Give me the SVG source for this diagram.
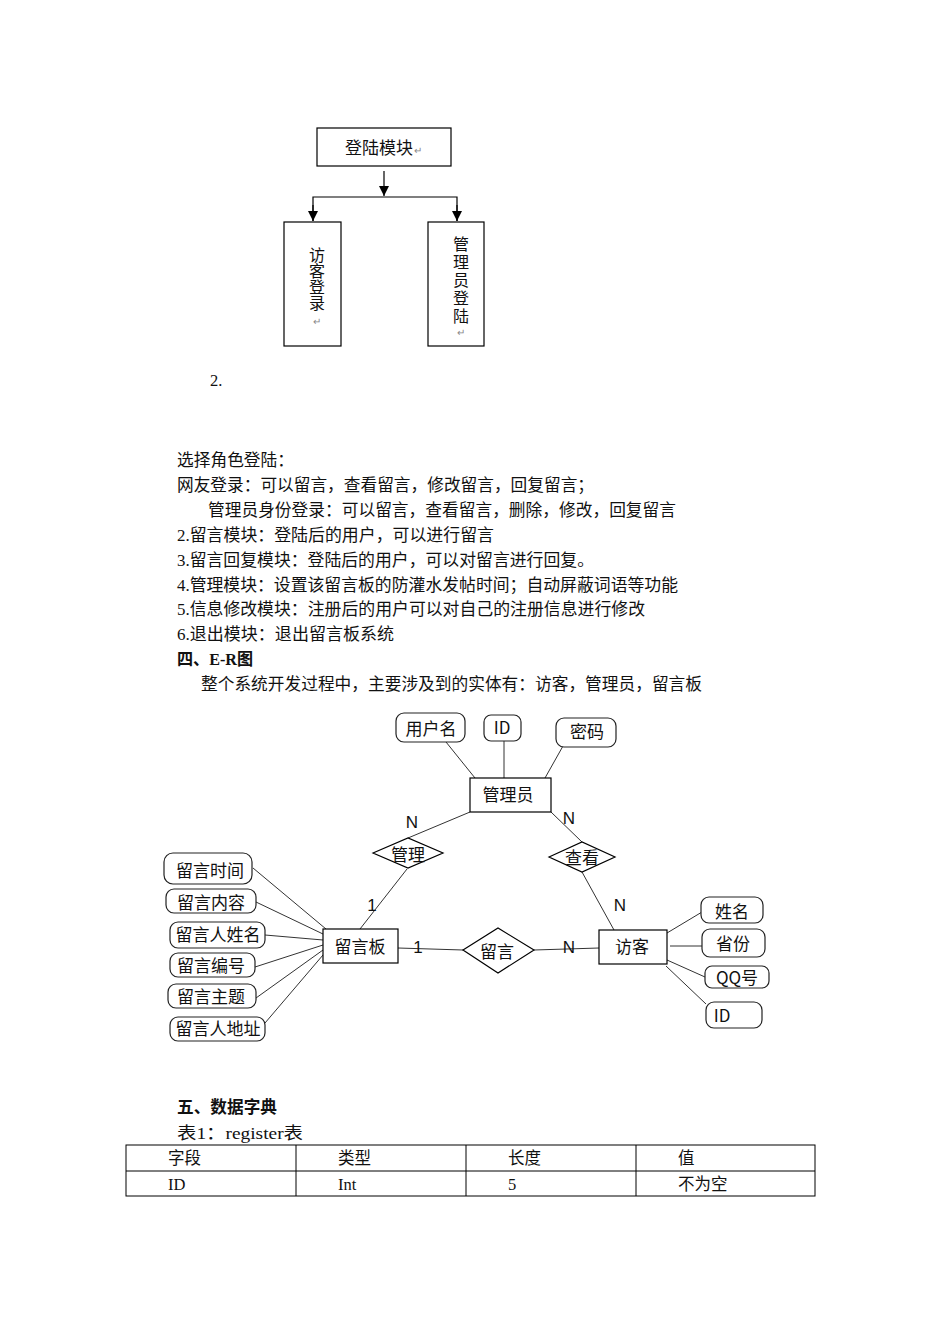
<svg xmlns="http://www.w3.org/2000/svg" width="950" height="1344" viewBox="0 0 950 1344">
<style>
.t{font-family:"Liberation Serif","Noto Sans CJK SC",serif;font-size:16.5px;fill:#111}
.b{font-weight:bold}
.s{font-family:"Noto Sans CJK SC","Liberation Sans",sans-serif;font-size:17px;fill:#111}
.v{font-family:"Noto Sans CJK SC","Liberation Sans",sans-serif;font-size:16px;fill:#111;writing-mode:vertical-rl;text-orientation:upright}
.m{font-family:"Liberation Sans","Noto Sans CJK SC",sans-serif;font-size:10px;fill:#888}
.box{fill:#fff;stroke:#000;stroke-width:1.2}
.attr{fill:#fff;stroke:#222;stroke-width:1.2}
.ln{stroke:#333;stroke-width:1;fill:none}
.fl{stroke:#000;stroke-width:1.2;fill:none}
.lab{font-family:"Liberation Sans","Noto Sans",sans-serif;font-size:17px;fill:#111}
</style>
<defs>
<marker id="ah" viewBox="0 0 10 10" refX="10" refY="5" markerWidth="10" markerHeight="10" markerUnits="userSpaceOnUse" orient="auto">
<path d="M0,0 L10,5 L0,10 Z" fill="#000"/>
</marker>
</defs>
<rect width="950" height="1344" fill="#fff"/>

<!-- flowchart connectors -->
<g id="flow-connectors">
<line class="fl" x1="384" y1="171" x2="384" y2="196" marker-end="url(#ah)"/>
<polyline class="fl" points="313,221 313,197 457,197 457,221"/>
<line class="fl" x1="313" y1="205" x2="313" y2="221" marker-end="url(#ah)"/>
<line class="fl" x1="457" y1="205" x2="457" y2="221" marker-end="url(#ah)"/>
</g>
<g id="login-module">
<rect class="box" x="317" y="128" width="134" height="38"/>
<text class="s" x="379" y="154" text-anchor="middle">登陆模块</text>
<text class="m" x="414" y="154">↵</text>
</g>
<g id="visitor-login">
<rect class="box" x="284" y="222" width="57" height="124"/>
<text class="v" x="317" y="247">访客登录</text>
<text class="m" x="317" y="325" text-anchor="middle">↵</text>
</g>
<g id="admin-login">
<rect class="box" x="428" y="222" width="56" height="124"/>
<text class="v" x="461" y="236" style="letter-spacing:2px">管理员登陆</text>
<text class="m" x="461" y="336" text-anchor="middle">↵</text>
</g>

<text class="t" x="210" y="386">2.</text>

<g id="body-text">
<text class="t" x="177" y="466" textLength="117" lengthAdjust="spacingAndGlyphs">选择角色登陆：</text>
<text class="t" x="177" y="491" textLength="417" lengthAdjust="spacingAndGlyphs">网友登录：可以留言，查看留言，修改留言，回复留言；</text>
<text class="t" x="208" y="516" textLength="468" lengthAdjust="spacingAndGlyphs">管理员身份登录：可以留言，查看留言，删除，修改，回复留言</text>
<text class="t" x="177" y="541" textLength="317" lengthAdjust="spacingAndGlyphs">2.留言模块：登陆后的用户，可以进行留言</text>
<text class="t" x="177" y="566" textLength="417" lengthAdjust="spacingAndGlyphs">3.留言回复模块：登陆后的用户，可以对留言进行回复。</text>
<text class="t" x="177" y="591" textLength="501" lengthAdjust="spacingAndGlyphs">4.管理模块：设置该留言板的防灌水发帖时间；自动屏蔽词语等功能</text>
<text class="t" x="177" y="615" textLength="468" lengthAdjust="spacingAndGlyphs">5.信息修改模块：注册后的用户可以对自己的注册信息进行修改</text>
<text class="t" x="177" y="640" textLength="217" lengthAdjust="spacingAndGlyphs">6.退出模块：退出留言板系统</text>
<text class="t b" x="177" y="665" textLength="76" lengthAdjust="spacingAndGlyphs">四、E-R图</text>
<text class="t" x="201" y="690" textLength="501" lengthAdjust="spacingAndGlyphs">整个系统开发过程中，主要涉及到的实体有：访客，管理员，留言板</text>
</g>

<!-- ER connectors -->
<g id="er-connectors">
<line class="ln" x1="446" y1="742" x2="475" y2="778"/>
<line class="ln" x1="504" y1="741" x2="504" y2="778"/>
<line class="ln" x1="563" y1="746" x2="545" y2="778"/>
<line class="ln" x1="470" y1="812" x2="408" y2="838"/>
<line class="ln" x1="551" y1="812" x2="582" y2="842"/>
<line class="ln" x1="582" y1="872" x2="614" y2="930"/>
<line class="ln" x1="407" y1="869" x2="360" y2="929"/>
<line class="ln" x1="398" y1="948" x2="463" y2="950"/>
<line class="ln" x1="534" y1="950" x2="599" y2="948"/>
<line class="ln" x1="253" y1="868" x2="326" y2="929"/>
<line class="ln" x1="256" y1="902" x2="323" y2="934"/>
<line class="ln" x1="265" y1="935" x2="323" y2="940"/>
<line class="ln" x1="255" y1="967" x2="323" y2="945"/>
<line class="ln" x1="256" y1="998" x2="323" y2="950"/>
<line class="ln" x1="265" y1="1023" x2="323" y2="955"/>
<line class="ln" x1="667" y1="933" x2="702" y2="912"/>
<line class="ln" x1="670" y1="946" x2="702" y2="946"/>
<line class="ln" x1="667" y1="960" x2="705" y2="977"/>
<line class="ln" x1="666" y1="966" x2="706" y2="1004"/>
<text class="lab" x="412" y="828" text-anchor="middle">N</text>
<text class="lab" x="569" y="824" text-anchor="middle">N</text>
<text class="lab" x="372" y="911" text-anchor="middle">1</text>
<text class="lab" x="620" y="911" text-anchor="middle">N</text>
<text class="lab" x="418" y="953" text-anchor="middle">1</text>
<text class="lab" x="569" y="953" text-anchor="middle">N</text>
</g>

<g id="admin"><rect class="box" x="470" y="778" width="81" height="34"/><text class="s" x="508" y="801" text-anchor="middle">管理员</text></g>
<g id="attr-username"><rect class="attr" x="396" y="713" width="69" height="29" rx="8"/><text class="s" x="431" y="735" text-anchor="middle">用户名</text></g>
<g id="attr-admin-id"><rect class="attr" x="484" y="715" width="37" height="26" rx="7"/><text class="s" x="502" y="734" text-anchor="middle">ID</text></g>
<g id="attr-password"><rect class="attr" x="556" y="718" width="60" height="29" rx="8"/><text class="s" x="587" y="738" text-anchor="middle">密码</text></g>

<g id="rel-manage"><polygon class="box" points="373,853 408,838 443,853 408,868"/><text class="s" x="408" y="861" text-anchor="middle">管理</text></g>
<g id="rel-view"><polygon class="box" points="549,857 582,842 615,857 582,872"/><text class="s" x="582" y="864" text-anchor="middle">查看</text></g>
<g id="rel-message"><polygon class="box" points="463,950 498,928 534,950 498,973"/><text class="s" x="497" y="958" text-anchor="middle">留言</text></g>

<g id="board"><rect class="box" x="323" y="929" width="75" height="34"/><text class="s" x="360" y="953" text-anchor="middle">留言板</text></g>
<g id="visitor"><rect class="box" x="599" y="930" width="68" height="34"/><text class="s" x="632" y="953" text-anchor="middle">访客</text></g>

<g id="attr-time"><rect class="attr" x="164" y="853" width="88" height="31" rx="9"/><text class="s" x="210" y="877" text-anchor="middle">留言时间</text></g>
<g id="attr-content"><rect class="attr" x="166" y="889" width="90" height="24" rx="8"/><text class="s" x="211" y="909" text-anchor="middle">留言内容</text></g>
<g id="attr-poster-name"><rect class="attr" x="170" y="922" width="95" height="26" rx="8"/><text class="s" x="218" y="941" text-anchor="middle">留言人姓名</text></g>
<g id="attr-number"><rect class="attr" x="170" y="953" width="85" height="24" rx="8"/><text class="s" x="211" y="972" text-anchor="middle">留言编号</text></g>
<g id="attr-subject"><rect class="attr" x="168" y="984" width="88" height="24" rx="8"/><text class="s" x="211" y="1003" text-anchor="middle">留言主题</text></g>
<g id="attr-address"><rect class="attr" x="170" y="1017" width="95" height="24" rx="8"/><text class="s" x="218" y="1035" text-anchor="middle">留言人地址</text></g>

<g id="attr-name"><rect class="attr" x="701" y="897" width="62" height="26" rx="8"/><text class="s" x="732" y="918" text-anchor="middle">姓名</text></g>
<g id="attr-province"><rect class="attr" x="702" y="929" width="63" height="28" rx="8"/><text class="s" x="733" y="950" text-anchor="middle">省份</text></g>
<g id="attr-qq"><rect class="attr" x="705" y="966" width="64" height="22" rx="7"/><text class="s" x="737" y="984" text-anchor="middle">QQ号</text></g>
<g id="attr-visitor-id"><rect class="attr" x="706" y="1002" width="56" height="26" rx="8"/><text class="s" x="722" y="1022" text-anchor="middle">ID</text></g>

<g id="dict">
<text class="t b" x="177" y="1113" textLength="100" lengthAdjust="spacingAndGlyphs">五、数据字典</text>
<text class="t" x="177" y="1139" textLength="126" lengthAdjust="spacingAndGlyphs">表1：register表</text>
</g>
<g id="table">
<rect x="126" y="1145" width="689" height="51" fill="none" stroke="#000" stroke-width="1"/>
<line x1="126" y1="1171" x2="815" y2="1171" stroke="#000" stroke-width="1"/>
<line x1="296" y1="1145" x2="296" y2="1196" stroke="#000" stroke-width="1"/>
<line x1="466" y1="1145" x2="466" y2="1196" stroke="#000" stroke-width="1"/>
<line x1="636" y1="1145" x2="636" y2="1196" stroke="#000" stroke-width="1"/>
<text class="t" x="168" y="1164">字段</text>
<text class="t" x="338" y="1164">类型</text>
<text class="t" x="508" y="1164">长度</text>
<text class="t" x="678" y="1164">值</text>
<text class="t" x="168" y="1190">ID</text>
<text class="t" x="338" y="1190">Int</text>
<text class="t" x="508" y="1190">5</text>
<text class="t" x="678" y="1190">不为空</text>
</g>
</svg>
